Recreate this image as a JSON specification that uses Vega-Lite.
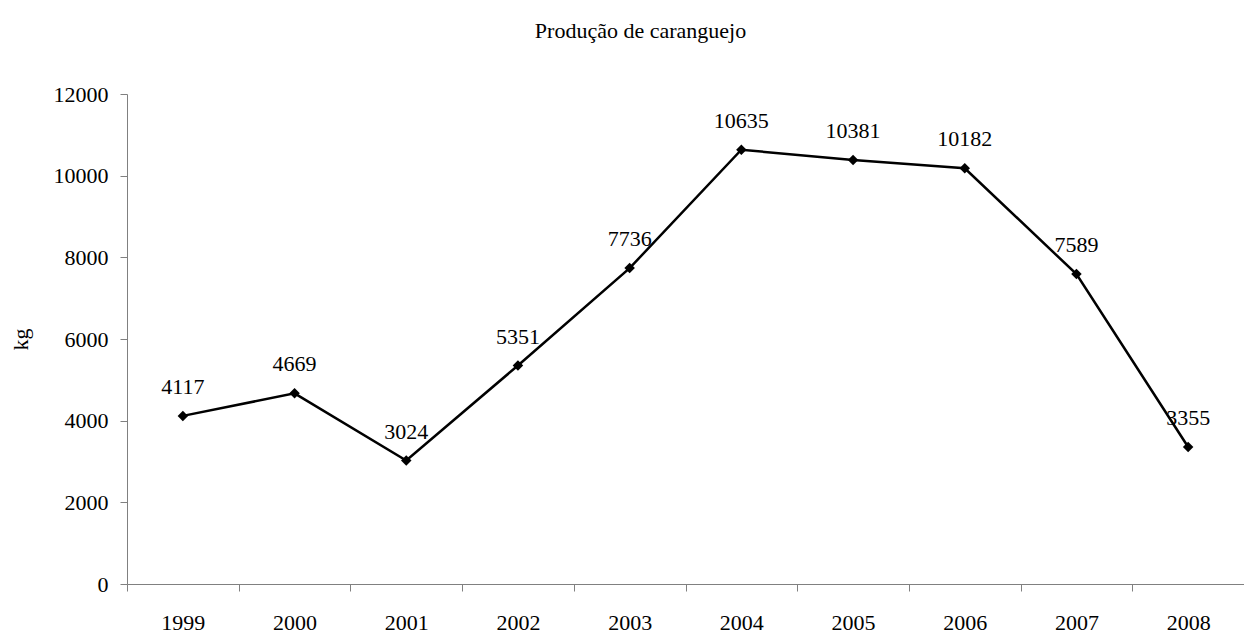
{
  "$schema": "https://vega.github.io/schema/vega-lite/v6.json",
  "autosize": {"type": "none"},
  "padding": {"left": 127, "top": 94, "right": 0, "bottom": 53},
  "width": 1117,
  "height": 490,
  "background": "white",
  "config": {
    "font": "Liberation Serif",
    "view": {"stroke": null},
    "axis": {"grid": false, "labelFont": "Liberation Serif", "titleFont": "Liberation Serif", "labelFontSize": 22, "titleFontSize": 22, "labelColor": "black", "titleColor": "black", "titleFontWeight": "normal", "domainColor": "#808080", "tickColor": "#808080", "domainWidth": 1, "tickWidth": 1, "tickSize": 7}
  },
  "title": {"text": "Produção de caranguejo", "font": "Liberation Serif", "fontSize": 22, "fontWeight": "normal", "color": "black", "anchor": "middle", "frame": "group", "baseline": "alphabetic", "offset": 23, "dx": -45},
  "data": {"values": [
    {"ano": "1999", "kg": 4117},
    {"ano": "2000", "kg": 4669},
    {"ano": "2001", "kg": 3024},
    {"ano": "2002", "kg": 5351},
    {"ano": "2003", "kg": 7736},
    {"ano": "2004", "kg": 10635},
    {"ano": "2005", "kg": 10381},
    {"ano": "2006", "kg": 10182},
    {"ano": "2007", "kg": 7589},
    {"ano": "2008", "kg": 3355}
  ]},
  "encoding": {
    "x": {"field": "ano", "type": "ordinal", "bandPosition": 0.5, "scale": {"type": "band", "paddingInner": 0, "paddingOuter": 0}, "axis": {"title": null, "labelAngle": 0, "tickBand": "extent", "labelPadding": 21, "labelBaseline": "top"}},
    "y": {"field": "kg", "type": "quantitative", "scale": {"domain": [0, 12000], "nice": false}, "axis": {"title": "kg", "values": [0, 2000, 4000, 6000, 8000, 10000, 12000], "labelPadding": 12, "titleX": -107, "titleY": 245, "titleAngle": -90, "titleBaseline": "middle", "titleAlign": "center", "format": "d"}}
  },
  "layer": [
    {"mark": {"type": "line", "color": "black", "strokeWidth": 2.5}},
    {"mark": {"type": "point", "shape": "diamond", "filled": true, "color": "black", "size": 110, "opacity": 1}},
    {"mark": {"type": "text", "baseline": "alphabetic", "dy": -22, "fontSize": 22, "font": "Liberation Serif", "color": "black"}, "encoding": {"text": {"field": "kg", "type": "quantitative", "format": "d"}}}
  ]
}
